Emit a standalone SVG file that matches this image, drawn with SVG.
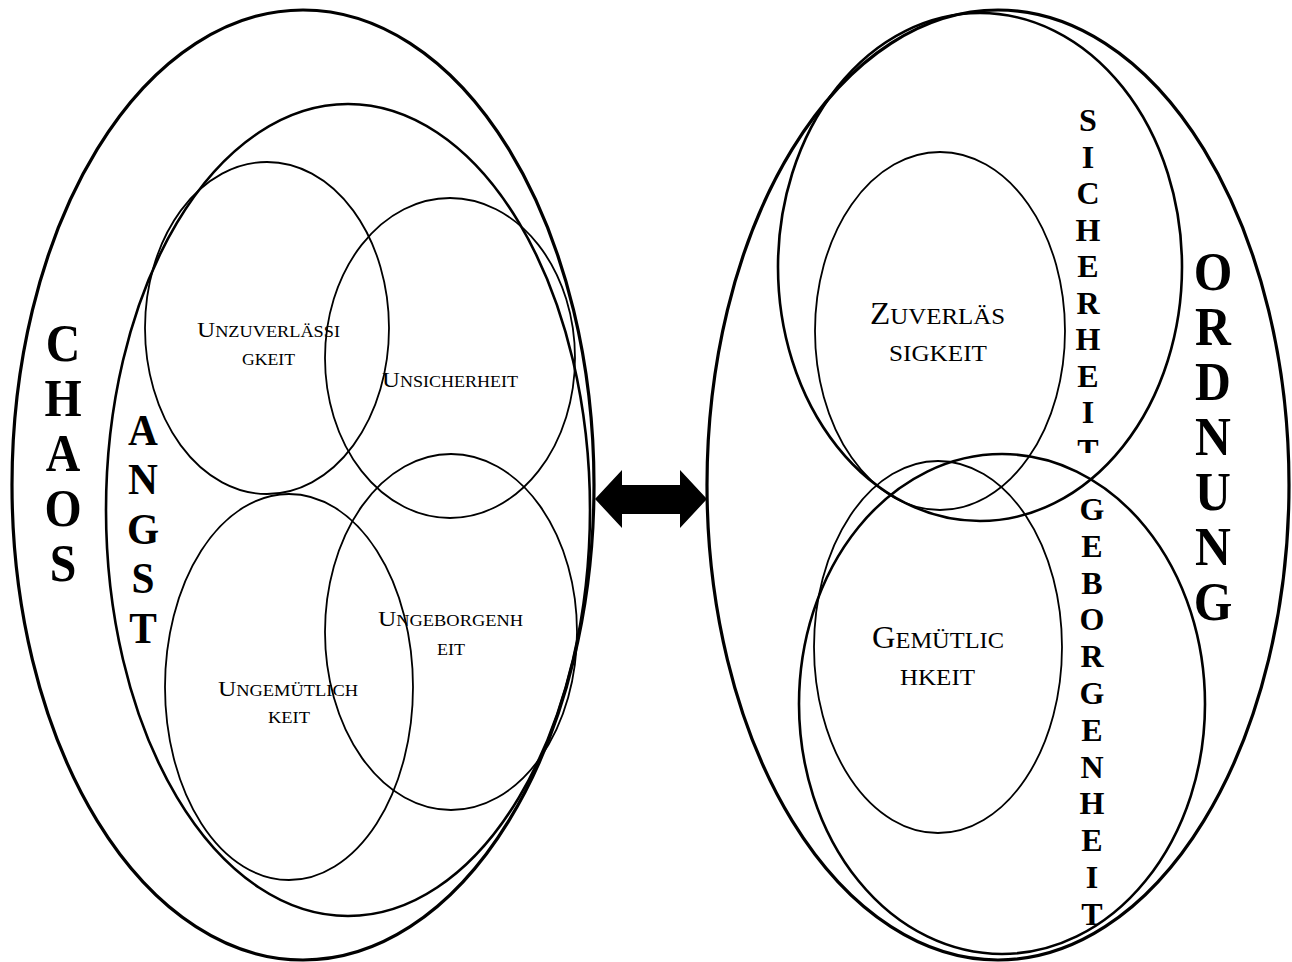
<svg xmlns="http://www.w3.org/2000/svg" width="1292" height="962" viewBox="0 0 1292 962">
<style>
.e{fill:none;stroke:#000;}
.big{stroke-width:3.2;}
.mid{stroke-width:2.6;}
.sm{stroke-width:1.8;}
.v{font-family:"Liberation Serif","Times New Roman",serif;font-weight:bold;text-anchor:middle;fill:#000;}
.lbl{font-family:"Liberation Serif","Times New Roman",serif;fill:#000;}
</style>
<defs>
<clipPath id="cutT"><rect x="1060" y="0" width="60" height="453"/></clipPath>
</defs>
<rect width="1292" height="962" fill="#fff"/>
<g id="chaos">
<ellipse class="e big" cx="303" cy="485" rx="291" ry="475"/>
<text class="v" font-size="52" transform="translate(63 0) scale(0.92 1)"><tspan x="0" y="361">C</tspan><tspan x="0" y="416">H</tspan><tspan x="0" y="471">A</tspan><tspan x="0" y="526">O</tspan><tspan x="0" y="581">S</tspan></text>
</g>
<g id="angst">
<ellipse class="e mid" cx="348" cy="510" rx="242" ry="406"/>
<text class="v" font-size="44" transform="translate(143 0) scale(0.94 1)"><tspan x="0" y="445">A</tspan><tspan x="0" y="494">N</tspan><tspan x="0" y="544">G</tspan><tspan x="0" y="593">S</tspan><tspan x="0" y="643">T</tspan></text>
</g>
<g id="unzuverlaessigkeit">
<ellipse class="e sm" cx="267" cy="328" rx="122" ry="166"/>
<text class="lbl" x="197" y="337" textLength="143" lengthAdjust="spacingAndGlyphs"><tspan font-size="22">U</tspan><tspan font-size="16">NZUVERLÄSSI</tspan></text>
<text class="lbl" x="242" y="365" font-size="16" textLength="53" lengthAdjust="spacingAndGlyphs">GKEIT</text>
</g>
<g id="unsicherheit">
<ellipse class="e sm" cx="450" cy="358" rx="125" ry="160"/>
<text class="lbl" x="382" y="387" textLength="136" lengthAdjust="spacingAndGlyphs"><tspan font-size="22">U</tspan><tspan font-size="16">NSICHERHEIT</tspan></text>
</g>
<g id="ungeborgenheit">
<ellipse class="e sm" cx="451" cy="632" rx="126" ry="178"/>
<text class="lbl" x="378" y="626" textLength="145" lengthAdjust="spacingAndGlyphs"><tspan font-size="22">U</tspan><tspan font-size="16">NGEBORGENH</tspan></text>
<text class="lbl" x="437" y="655" font-size="16" textLength="28" lengthAdjust="spacingAndGlyphs">EIT</text>
</g>
<g id="ungemuetlichkeit">
<ellipse class="e sm" cx="289" cy="687" rx="124" ry="193"/>
<text class="lbl" x="218" y="696" textLength="140" lengthAdjust="spacingAndGlyphs"><tspan font-size="22">U</tspan><tspan font-size="16">NGEMÜTLICH</tspan></text>
<text class="lbl" x="268" y="723" font-size="16" textLength="42" lengthAdjust="spacingAndGlyphs">KEIT</text>
</g>
<g id="ordnung">
<ellipse class="e big" cx="998" cy="485" rx="291" ry="475"/>
<text class="v" font-size="54" transform="translate(1213 0) scale(0.92 1)"><tspan x="0" y="290">O</tspan><tspan x="0" y="345">R</tspan><tspan x="0" y="400">D</tspan><tspan x="0" y="455">N</tspan><tspan x="0" y="510">U</tspan><tspan x="0" y="565">N</tspan><tspan x="0" y="620">G</tspan></text>
</g>
<g id="sicherheit">
<ellipse class="e mid" cx="980" cy="267" rx="202" ry="254"/>
<text class="v" font-size="32"><tspan x="1088" y="131">S</tspan><tspan x="1088" y="167.5">I</tspan><tspan x="1088" y="204">C</tspan><tspan x="1088" y="240.5">H</tspan><tspan x="1088" y="277">E</tspan><tspan x="1088" y="313.5">R</tspan><tspan x="1088" y="350">H</tspan><tspan x="1088" y="386.5">E</tspan><tspan x="1088" y="423">I</tspan></text>
<text class="v" font-size="32" clip-path="url(#cutT)" x="1088" y="461">T</text>
</g>
<g id="geborgenheit">
<ellipse class="e mid" cx="1002" cy="704" rx="203" ry="250"/>
<text class="v" font-size="32"><tspan x="1092" y="520">G</tspan><tspan x="1092" y="557">E</tspan><tspan x="1092" y="594">B</tspan><tspan x="1092" y="630">O</tspan><tspan x="1092" y="667">R</tspan><tspan x="1092" y="704">G</tspan><tspan x="1092" y="741">E</tspan><tspan x="1092" y="778">N</tspan><tspan x="1092" y="814">H</tspan><tspan x="1092" y="851">E</tspan><tspan x="1092" y="888">I</tspan><tspan x="1092" y="925">T</tspan></text>
</g>
<g id="zuverlaessigkeit">
<ellipse class="e sm" cx="940" cy="331" rx="125" ry="179"/>
<text class="lbl" x="870" y="324" textLength="135" lengthAdjust="spacingAndGlyphs"><tspan font-size="32">Z</tspan><tspan font-size="24">UVERLÄS</tspan></text>
<text class="lbl" x="889" y="361" font-size="24" textLength="98" lengthAdjust="spacingAndGlyphs">SIGKEIT</text>
</g>
<g id="gemuetlichkeit">
<ellipse class="e sm" cx="938" cy="647" rx="124" ry="186"/>
<text class="lbl" x="872" y="648" textLength="132" lengthAdjust="spacingAndGlyphs"><tspan font-size="32">G</tspan><tspan font-size="24">EMÜTLIC</tspan></text>
<text class="lbl" x="900" y="685" font-size="24" textLength="75" lengthAdjust="spacingAndGlyphs">HKEIT</text>
</g>
<g id="connectors">
<polygon points="595,499 622,470 622,485 680,485 680,470 707,499 680,528 680,514 622,514 622,528" fill="#000"/>
</g>
</svg>
